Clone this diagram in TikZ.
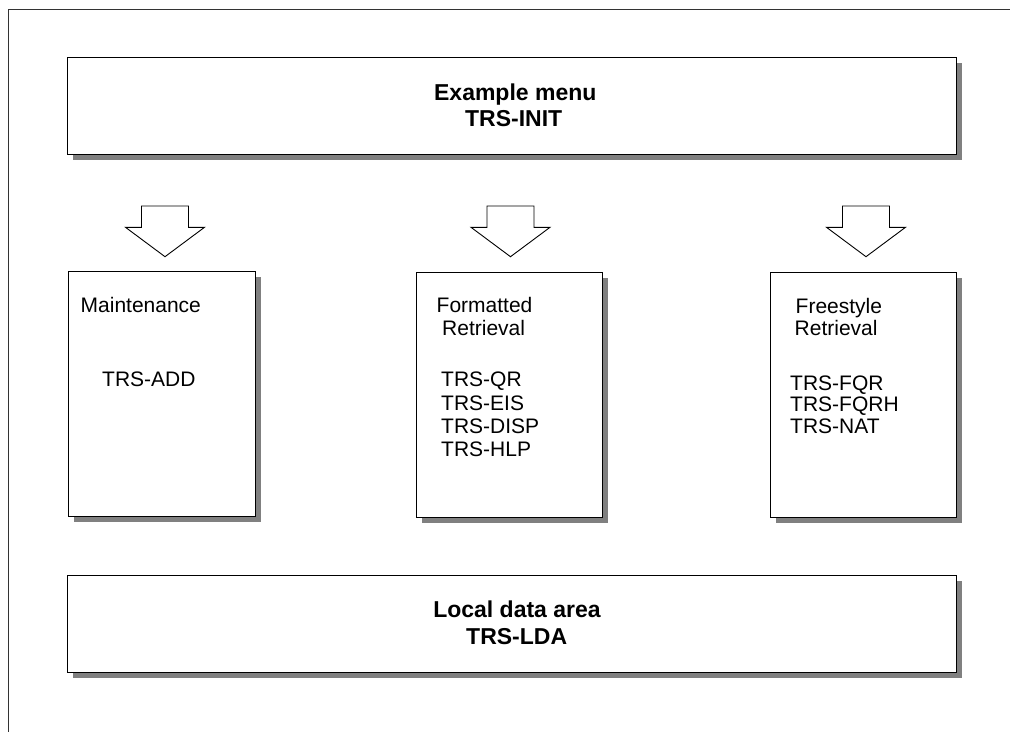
\documentclass[tikz,border=0pt]{standalone}
\usepackage{fontspec}
\setmainfont{Liberation Sans}
\usetikzlibrary{shadows}
\definecolor{shadowgray}{HTML}{808080}
\definecolor{framegray}{HTML}{333333}
\tikzset{
  box/.style={draw=black, line width=0.9pt, fill=white, anchor=north west,
    inner sep=0pt, outer sep=0pt,
    drop shadow={shadow xshift=5.5pt, shadow yshift=-5.5pt, fill=shadowgray, opacity=1}},
  arrowline/.style={draw=black, line width=0.9pt, fill=white, line join=miter},
  lbl/.style={anchor=base west, inner sep=0pt, font=\fontsize{21}{22}\selectfont},
  ttl/.style={anchor=base, inner sep=0pt, font=\bfseries\fontsize{23}{26}\selectfont},
  framestyle/.style={draw=framegray, line width=1pt},
  downarrow/.pic={
    \path[arrowline] (-23.5,0) -- (23.5,0) -- (23.5,21.3) -- (39.5,21.3)
      -- (0,50.7) -- (-39.5,21.3) -- (-23.5,21.3) -- cycle;
  }
}
\begin{document}
\begin{tikzpicture}[x=1pt,y=-1pt]
\useasboundingbox (0,0) rectangle (1010,732);
% outer frame
\coordinate (frameTR) at (1010,9.3);
\coordinate (frameTL) at (8.3,9.3);
\coordinate (frameBL) at (8.3,732);
\draw[framestyle] (frameTR) -- (frameTL) -- (frameBL);

% boxes
\node[box, minimum width=889.4pt, minimum height=96.8pt] (menu) at (67.3,57.7) {};
\node[box, minimum width=186.3pt, minimum height=245pt] (maint) at (68.7,271.7) {};
\node[box, minimum width=186pt, minimum height=245pt] (fmt) at (416,272) {};
\node[box, minimum width=186pt, minimum height=245pt] (free) at (770,272) {};
\node[box, minimum width=889.4pt, minimum height=96.8pt] (lda) at (67.3,575.5) {};

% block arrows
\pic at (165,206) {downarrow};
\pic at (510.5,206) {downarrow};
\pic at (866,206) {downarrow};

% top / bottom titles
\node[ttl] (menu1) at (515.3,100) {Example menu};
\node[ttl] (menu2) at (513.7,126) {TRS-INIT};
\node[ttl] (lda1) at (517,617.7) {Local data area};
\node[ttl] (lda2) at (516.7,644) {TRS-LDA};

% Maintenance
\node[lbl] (m1) at (80.5,312.7) {Maintenance};
\node[lbl] (m2) at (102,386.7) {TRS-ADD};

% Formatted Retrieval
\node[lbl] (f1) at (436.5,312.7) {Formatted};
\node[lbl] (f2) at (442,335) {Retrieval};
\node[lbl] (f3) at (441,386.7) {TRS-QR};
\node[lbl] (f4) at (441,410) {TRS-EIS};
\node[lbl] (f5) at (441,433.3) {TRS-DISP};
\node[lbl] (f6) at (441,456.7) {TRS-HLP};

% Freestyle Retrieval
\node[lbl] (s1) at (795.5,313) {Freestyle};
\node[lbl] (s2) at (794.5,335) {Retrieval};
\node[lbl] (s3) at (790,390) {TRS-FQR};
\node[lbl] (s4) at (790,411.7) {TRS-FQRH};
\node[lbl] (s5) at (790,433.3) {TRS-NAT};
\end{tikzpicture}
\end{document}
